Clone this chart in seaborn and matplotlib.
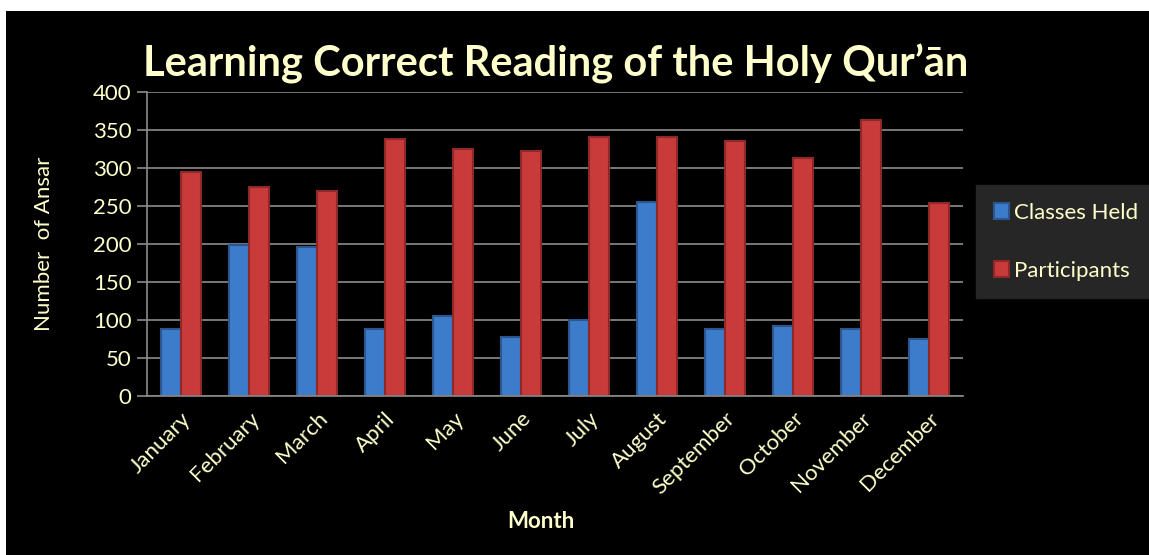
import numpy as np, pandas as pd
import seaborn as sns
import matplotlib.pyplot as plt
from matplotlib.patches import Rectangle

months = ['January', 'February', 'March', 'April', 'May', 'June', 'July',
          'August', 'September', 'October', 'November', 'December']
classes_held = [88, 199, 196, 88, 105, 77, 100, 255, 88, 92, 88, 75]
participants = [295, 275, 270, 338, 325, 323, 341, 341, 336, 313, 363, 254]

df = pd.DataFrame({
    'Month': months * 2,
    'Value': classes_held + participants,
    'Series': ['Classes Held'] * 12 + ['Participants'] * 12,
})

sns.set_style('dark')
plt.rcParams['font.family'] = ['Lato', 'DejaVu Sans']
txt = '#FFFFCC'
grid = '#8C8C8C'

fig = plt.figure(figsize=(11.49, 5.55), dpi=100)
fig.patch.set_facecolor('white')
fig.patches.append(Rectangle((6 / 1149, 0), 1, 1 - 11 / 555, transform=fig.transFigure,
                             facecolor='black', edgecolor='none', zorder=-10))

ax = fig.add_axes([147 / 1149, 1 - 396 / 555, (963 - 147) / 1149, (396 - 92) / 555])
ax.set_facecolor('black')

sns.barplot(data=df, x='Month', y='Value', hue='Series', order=months,
            palette={'Classes Held': '#3D7CCB', 'Participants': '#C93A3A'},
            width=0.6, gap=0, ax=ax, legend=True, saturation=1, linewidth=0)

# darker rim on each bar, like the shaded columns
for bar in ax.patches:
    fc = bar.get_facecolor()
    bar.set_edgecolor(tuple(c * 0.7 for c in fc[:3]))
    bar.set_linewidth(1.5)

ax.set_ylim(0, 400)
ax.set_yticks(range(0, 401, 50))
ax.set_xlim(-0.5, 11.5)
ax.yaxis.grid(True, color=grid, linewidth=1.2)
ax.xaxis.grid(False)
ax.set_axisbelow(True)
for s in ['top', 'right']:
    ax.spines[s].set_visible(False)
for s in ['left', 'bottom']:
    ax.spines[s].set_visible(True)
    ax.spines[s].set_color(grid)
    ax.spines[s].set_linewidth(1.2)

ax.set_xticks(np.arange(-0.5, 12, 1), minor=True)
ax.tick_params(axis='x', which='major', length=0, pad=9)
ax.tick_params(axis='x', which='minor', length=7, color=grid, width=1.2, direction='out')
ax.tick_params(axis='y', length=7, color=grid, width=1.2, direction='out', left=True,
               labelsize=16, labelcolor=txt, pad=4)
ax.set_xticks(range(12))
ax.set_xticklabels(months, rotation=45, ha='right', rotation_mode='anchor',
                   fontsize=16, color=txt)

ax.set_xlabel('Month', color=txt, fontsize=16, fontweight='bold', va='center')
ax.xaxis.set_label_coords((541 - 147) / 816, (396 - 522) / 304)
ax.set_ylabel('Number  of Ansar', color=txt, fontsize=16, labelpad=28)

fig.text(556 / 1149, 1 - 64 / 555, 'Learning Correct Reading of the Holy Qur’ān',
         ha='center', va='center', fontsize=30, fontweight='bold', color=txt)

ax.get_legend().remove()
h, l = ax.get_legend_handles_labels()
leg = fig.legend(h, l, loc='upper left', bbox_to_anchor=(976 / 1149, 1 - 185 / 555),
                 frameon=True, facecolor='#262626', edgecolor='#262626', fancybox=False,
                 fontsize=16, labelcolor=txt, handlelength=0.7, handleheight=0.7,
                 handletextpad=0.2, labelspacing=1.7, borderpad=0.8, borderaxespad=0)
leg.get_frame().set_alpha(1)

fig.savefig('out.png', dpi=100)
